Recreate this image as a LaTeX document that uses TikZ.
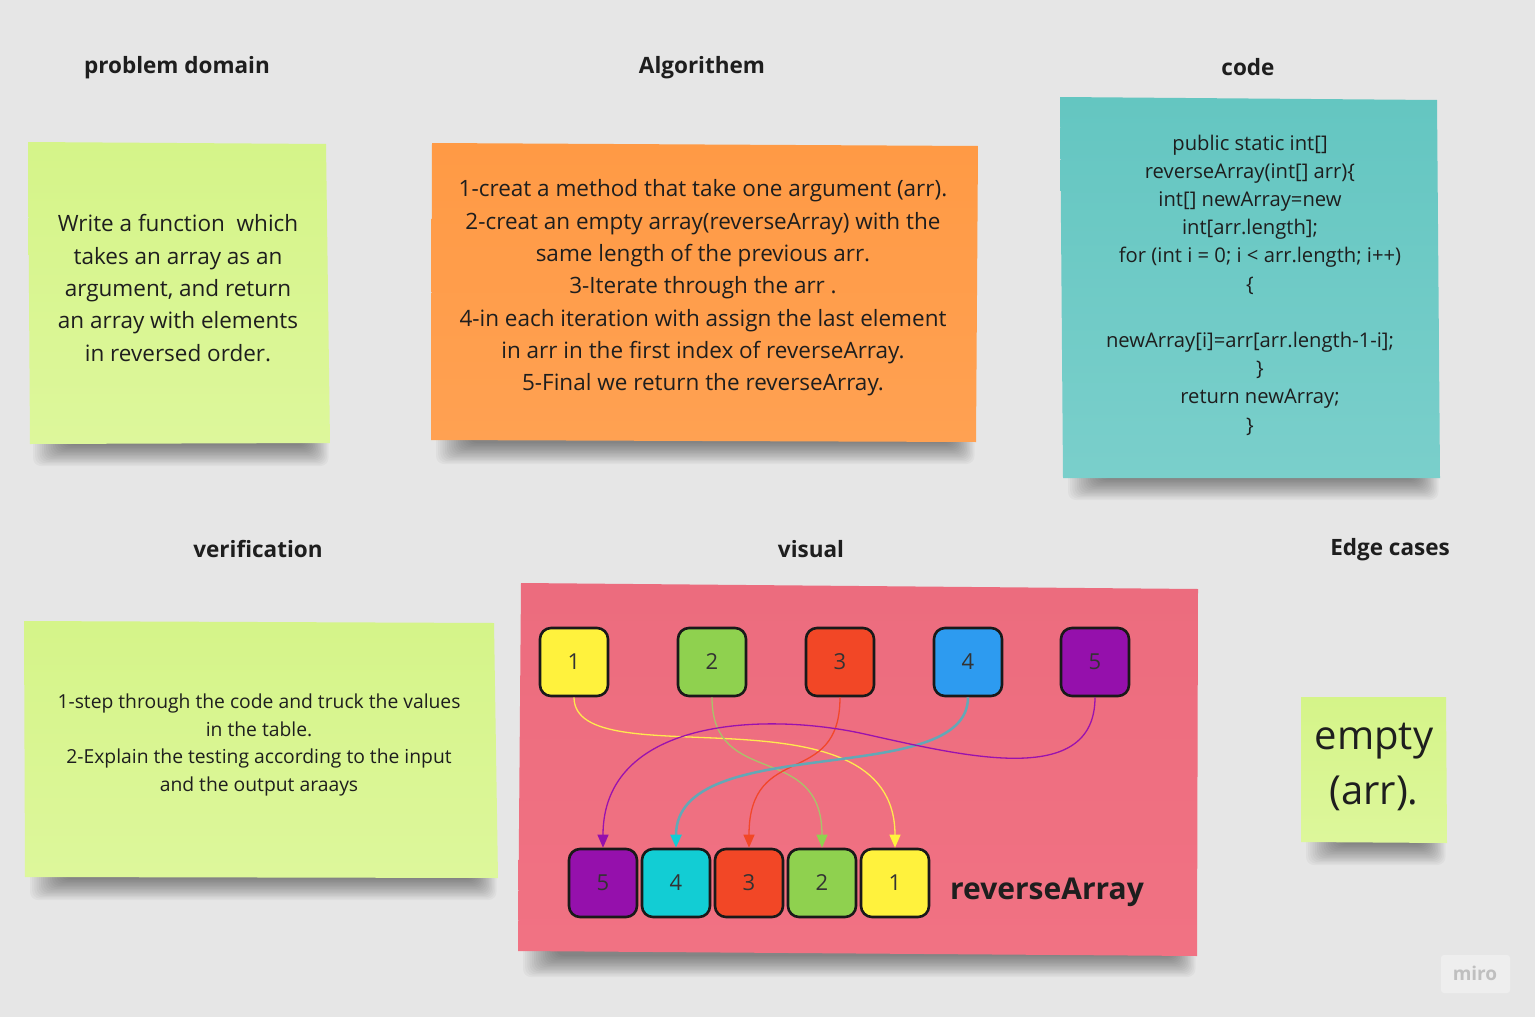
\documentclass[tikz,border=0pt]{standalone}
\usepackage{fontspec}
\setmainfont{Open Sans}
\usetikzlibrary{arrows.meta}
\definecolor{bg}{HTML}{E6E6E6}
\definecolor{ink}{HTML}{1E1E1E}
\definecolor{limeA}{HTML}{D5F489}
\definecolor{limeB}{HTML}{DDF79B}
\definecolor{orgA}{HTML}{FF9A45}
\definecolor{orgB}{HTML}{FFA152}
\definecolor{tealA}{HTML}{64C6C1}
\definecolor{tealB}{HTML}{7ACFCB}
\definecolor{pinkA}{HTML}{EC6C7E}
\definecolor{pinkB}{HTML}{F17283}
\definecolor{cyel}{HTML}{FFF23D}
\definecolor{cgrn}{HTML}{8FD14F}
\definecolor{cred}{HTML}{F24726}
\definecolor{cblu}{HTML}{2D9BF0}
\definecolor{cpur}{HTML}{9510AC}
\definecolor{ccya}{HTML}{12CDD4}
\definecolor{lyel}{HTML}{FFE94F}
\definecolor{lgrn}{HTML}{A9C26A}
\definecolor{lred}{HTML}{F2472A}
\definecolor{ltea}{HTML}{63A8B6}
\definecolor{lpur}{HTML}{9A12AE}
\newcommand\notesh[3]{%
  \foreach \k in {0,...,15}{\fill[shadowlayer] (#1+38-\k*2.2,#3-20) rectangle (#2-24+\k*1.5,#3+1+\k*1.4);}}
\tikzset{
  shadowlayer/.style={fill=black,fill opacity=0.03,rounded corners=8pt},
  title/.style={font=\bfseries\fontsize{22.5}{27}\selectfont,text=ink},
  txt/.style={align=center,text=ink},
  arrbox/.style={draw=black!90,line width=2.6pt,rounded corners=11pt,minimum width=68pt,minimum height=68pt,font=\fontsize{22}{26}\selectfont,text=black!80,inner sep=0pt},
  link/.style={line width=1.3pt},
}
\begin{document}
\begin{tikzpicture}[x=1pt,y=-1pt]
\useasboundingbox (0,0) rectangle (1535,1017);
\fill[bg] (0,0) rectangle (1535,1017);

% titles
\node[title] (t1) at (177,68) {problem domain};
\node[title] (t2) at (702,68) {Algorithem};
\node[title] (t3) at (1248,67) {code};
\node[title] (t4) at (258,549) {verification};
\node[title] (t5) at (811,549) {visual};
\node[title] (t6) at (1390,550) {Edge cases};

% shadows
\notesh{28}{330}{444}
\notesh{431}{976}{442}
\notesh{1063}{1440}{478}
\notesh{25}{498}{878}
\notesh{518}{1197}{955}
\notesh{1301}{1447}{843}

% notes
\shade[top color=limeA,bottom color=limeB] (28,142) -- (326,144) -- (330,443) -- (30,444) -- cycle;
\shade[top color=orgA,bottom color=orgB] (432,143) -- (978,146) -- (976,442) -- (431,440) -- cycle;
\shade[top color=tealA,bottom color=tealB] (1060,97) -- (1437,100) -- (1440,478) -- (1063,478) -- cycle;
\shade[top color=limeA,bottom color=limeB] (24,621) -- (494,623) -- (498,878) -- (25,877) -- cycle;
\shade[top color=pinkA,bottom color=pinkB] (521,583) -- (1198,589) -- (1197,956) -- (518,951) -- cycle;
\shade[top color=limeA,bottom color=limeB] (1301,697) -- (1446,697) -- (1447,843) -- (1301,842) -- cycle;

% note texts
\node[txt,font=\fontsize{22.5}{32.4}\selectfont] (pd) at (178,288)
 {Write a function\ \ which\\takes an array as an\\argument, and return\\an array with elements\\in reversed order.};
\node[txt,font=\fontsize{22.5}{32.3}\selectfont] (alg) at (703,288)
 {1-creat a method that take one argument (arr).\\2-creat an empty array(reverseArray) with the\\same length of the previous arr.\\3-Iterate through the arr .\\4-in each iteration with assign the last element\\in arr in the first index of reverseArray.\\5-Final we return the reverseArray.};
\node[txt,font=\fontsize{20.2}{28.2}\selectfont] (code) at (1250,285)
 {public static int[]\\reverseArray(int[] arr)\{\\int[] newArray=new\\int[arr.length];\\\hspace*{20pt}for (int i = 0; i < arr.length; i++)\\\{\\~\\newArray[i]=arr[arr.length-1-i];\\\hspace*{20pt}\}\\\hspace*{20pt}return newArray;\\\}};
\node[txt,font=\fontsize{19.3}{27.7}\selectfont] (ver) at (259,745)
 {1-step through the code and truck the values\\in the table.\\2-Explain the testing according to the input\\and the output araays};
\node[txt,font=\fontsize{40}{55}\selectfont] (edge) at (1374,767) {empty\\(arr).};

% visual: arrays
\node[arrbox,fill=cyel] (a1) at (574,662) {1};
\node[arrbox,fill=cgrn] (a2) at (712,662) {2};
\node[arrbox,fill=cred] (a3) at (840,662) {3};
\node[arrbox,fill=cblu] (a4) at (968,662) {4};
\node[arrbox,fill=cpur] (a5) at (1095,662) {5};

\node[arrbox,fill=cpur] (b5) at (603,883) {5};
\node[arrbox,fill=ccya] (b4) at (676,883) {4};
\node[arrbox,fill=cred] (b3) at (749,883) {3};
\node[arrbox,fill=cgrn] (b2) at (822,883) {2};
\node[arrbox,fill=cyel] (b1) at (895,883) {1};

\node[font=\bfseries\fontsize{30}{35}\selectfont,text=ink] (ra) at (1047,892) {reverseArray};

% connectors
\draw[link,lyel,-{Triangle[width=11pt,length=13pt,color=cyel]}]
  (a1.south) .. controls +(0,83) and +(0,-168) .. (b1.north);
\draw[link,lgrn,-{Triangle[width=11pt,length=13pt,color=cgrn]}]
  (a2.south) .. controls +(0,93) and +(0,-108) .. (b2.north);
\draw[link,lred,-{Triangle[width=11pt,length=13pt,color=cred]}]
  (a3.south) .. controls +(0,93) and +(0,-108) .. (b3.north);
\draw[link,line width=2.5pt,ltea,-{Triangle[width=11pt,length=13pt,color=ccya]}]
  (a4.south) .. controls +(0,93) and +(0,-118) .. (b4.north);
\draw[link,lpur,-{Triangle[width=11pt,length=13pt,color=cpur]}]
  (a5.south) .. controls +(0,93) and (960,755) .. (860,733)
  .. controls (760,712) and (603,720) .. (b5.north);

% miro mark
\fill[white,fill opacity=0.35,rounded corners=3pt] (1441,955) rectangle (1510,993);
\node[font=\bfseries\fontsize{19}{22}\selectfont,text=black!25] (miro) at (1475,973) {miro};
\end{tikzpicture}
\end{document}
